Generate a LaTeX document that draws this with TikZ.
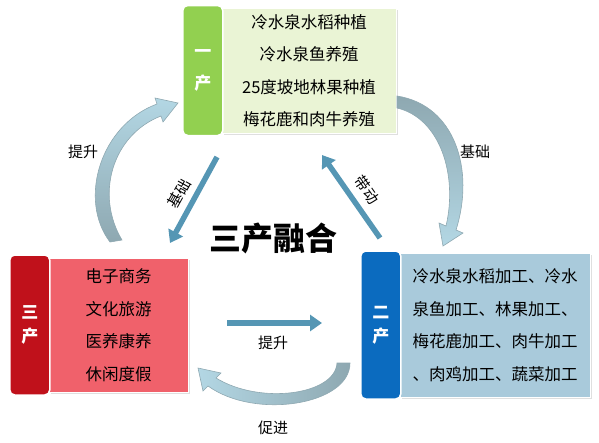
\documentclass[tikz,border=0pt]{standalone}
\usepackage{fontspec}
\setmainfont{Noto Sans CJK SC}
\usetikzlibrary{arrows.meta,positioning,shadows}

\definecolor{tabgreen}{HTML}{92D050}
\definecolor{boxgreen}{HTML}{EAF4D5}
\definecolor{tabred}{HTML}{C0111B}
\definecolor{boxred}{HTML}{F0616B}
\definecolor{tabblue}{HTML}{0B6BBF}
\definecolor{boxblue}{HTML}{A9CADB}
\definecolor{flowblue}{HTML}{5596B4}
\definecolor{curvelight}{HTML}{B3D7E4}
\definecolor{curvedark}{HTML}{8EA8B1}

\begin{document}
\begin{tikzpicture}[
    x=1pt, y=-1pt,
    box/.style={rectangle, draw=white, line width=1pt, inner sep=0pt, align=center, font=\fontsize{16.5}{32.5}\selectfont, drop shadow={opacity=0.25, shadow xshift=1.5pt, shadow yshift=-1.5pt}},
    tab/.style={rectangle, rounded corners=5pt, draw=white, line width=1.5pt, minimum width=40pt, inner sep=0pt, align=center, text=white, font=\fontsize{17}{24}\selectfont\bfseries},
    flow/.style={line width=5.5pt, draw=flowblue, -{Triangle[length=12pt, width=16pt]}},
    curve/.style={draw=curvedark, line width=0.6pt},
    lbl/.style={font=\fontsize{15}{15}\selectfont}
]
    \useasboundingbox (0,0) rectangle (599,442);

    % Nodes
    \node[box, fill=boxgreen, minimum width=174pt, minimum height=125pt] (agri) at (309,70.5) {冷水泉水稻种植\\冷水泉鱼养殖\\25度坡地林果种植\\梅花鹿和肉牛养殖};
    \node[tab, fill=tabgreen, minimum height=130pt, font=\fontsize{17}{32}\selectfont\bfseries, left=-2pt of agri] (agritab) {一\\产};

    \node[box, fill=boxred, minimum width=139pt, minimum height=134pt] (serv) at (118.5,325) {电子商务\\文化旅游\\医养康养\\休闲度假};
    \node[tab, fill=tabred, minimum height=140pt, left=-2pt of serv] (servtab) {三\\产};

    \node[box, fill=boxblue, minimum width=190pt, minimum height=144pt, align=left] (indus) at (495,325) {冷水泉水稻加工、冷水\\泉鱼加工、林果加工、\\梅花鹿加工、肉牛加工\\、肉鸡加工、蔬菜加工};
    \node[tab, fill=tabblue, minimum height=148pt, left=-2pt of indus] (industab) {二\\产};

    \node[font=\fontsize{32}{32}\selectfont\bfseries] (title) at (273,238) {三产融合};

    % Arrows
    \coordinate (baseS) at (217,157);
    \coordinate (baseE) at (170,243);
    \coordinate (driveS) at (380,238);
    \coordinate (driveE) at (322,155);
    \coordinate (liftS) at (227,323);
    \coordinate (liftE) at (322,323);
    \draw[flow] (baseS) -- (baseE);
    \draw[flow] (driveS) -- (driveE);
    \draw[flow] (liftS) -- (liftE);

    % curved arrows
    \path[curve, top color=curvelight, bottom color=curvedark]
        (110,242) .. controls (78,200) and (100,125) .. (157,104) -- (155,98) -- (178,103) -- (163,122) -- (161,116)
        .. controls (112,135) and (95,195) .. (122,240) -- cycle;
    \path[curve, top color=curvedark, bottom color=curvelight]
        (397,96) .. controls (455,105) and (475,170) .. (456,230) -- (463,233) -- (443,246) -- (439,223) -- (446,226)
        .. controls (458,175) and (440,118) .. (397,108) -- cycle;
    \path[curve, left color=curvelight, right color=curvedark]
        (337,363) .. controls (335,395) and (260,405) .. (216,378) -- (221,373) -- (198,368) -- (203,391) -- (208,386)
        .. controls (255,420) and (350,405) .. (350,363) -- cycle;

    % Labels
    \node[lbl, rotate=61] (baselbl) at (179,194) {基础};
    \node[lbl, rotate=-55] (drivelbl) at (367,190) {带动};
    \node[lbl] (liftlbl) at (273,343) {提升};
    \node[lbl] (uplbl) at (83,152) {提升};
    \node[lbl] (rootlbl) at (475,152) {基础};
    \node[lbl] (pushlbl) at (273,428) {促进};
\end{tikzpicture}
\end{document}
